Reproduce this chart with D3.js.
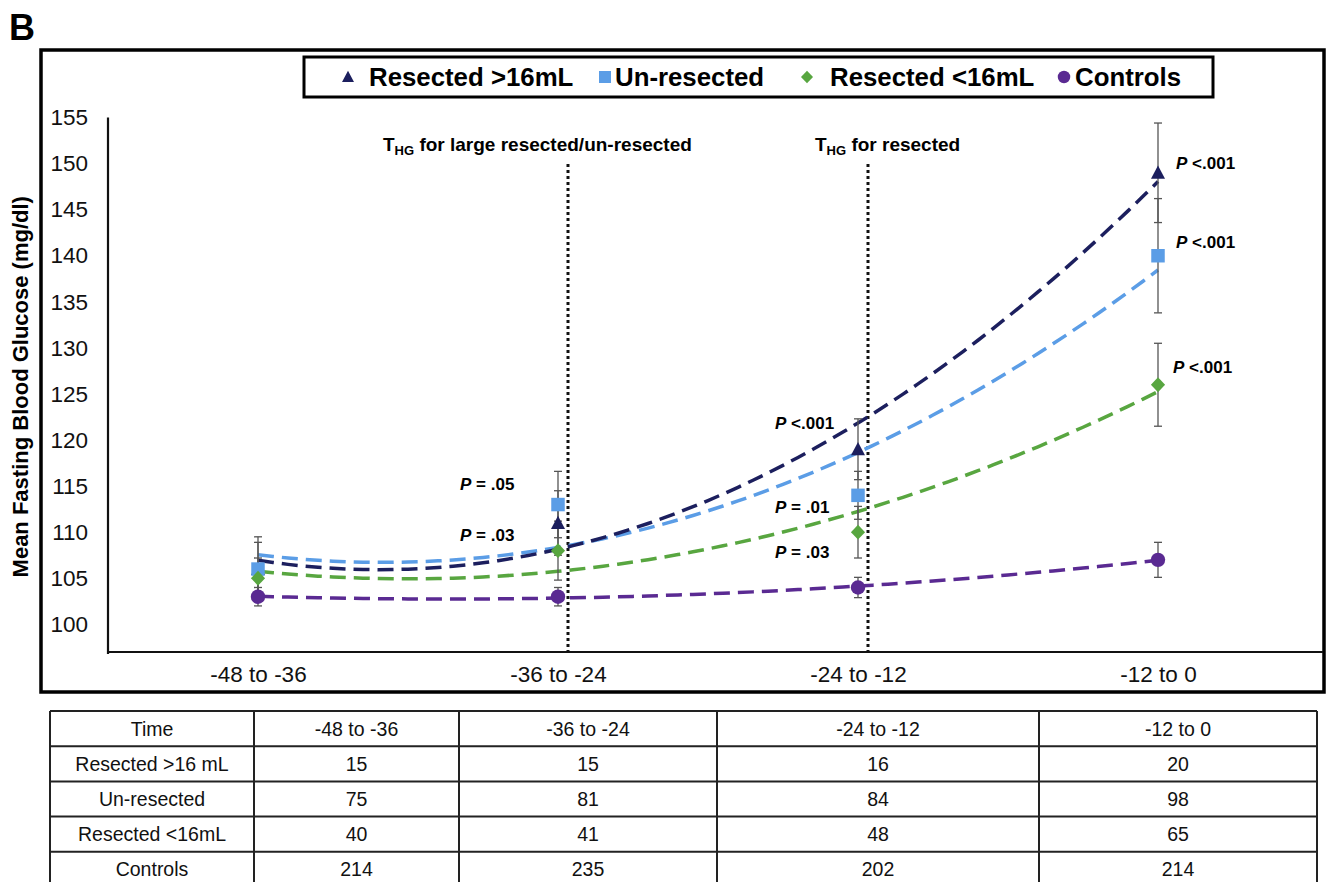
<!DOCTYPE html>
<html>
<head>
<meta charset="utf-8">
<script src="https://cdn.jsdelivr.net/npm/d3@7/dist/d3.min.js"></script>
<style>
  html, body { margin: 0; padding: 0; background: #fff; }
  svg { display: block; font-family: "Liberation Sans", Arial, Helvetica, sans-serif; }
</style>
</head>
<body>
<svg id="chart" width="1329" height="882"></svg>
<script>
// Time windows (months before diagnosis)
const categories = ["-48 to -36", "-36 to -24", "-24 to -12", "-12 to 0"];

// Mean fasting blood glucose (mg/dl) per group
const resectedLarge = [106, 111, 119, 149];
const unresected    = [106, 113, 114, 140];
const resectedSmall = [105, 108, 110, 126];
const controls      = [103, 103, 104, 107];

// Error bar half-widths (mg/dl)
const errLarge = [3.5, 3.5, 3.3, 5.4];
const errUn    = [2.9, 3.6, 2.6, 6.2];
const errSmall = [2.2, 3.2, 2.8, 4.5];
const errCtrl  = [1.0, 1.0, 1.1, 1.9];

// Y axis tick labels
const yTicks = [100, 105, 110, 115, 120, 125, 130, 135, 140, 145, 150, 155];

// Sample sizes shown under the chart
const tableHeader = ["Time", "-48 to -36", "-36 to -24", "-24 to -12", "-12 to 0"];
const nResectedLarge = [15, 15, 16, 20];
const nUnresected    = [75, 81, 84, 98];
const nResectedSmall = [40, 41, 48, 65];
const nControls      = [214, 235, 202, 214];
const tableRowNames  = ["Resected >16 mL", "Un-resected", "Resected <16mL", "Controls"];

// P-value annotations: category index, text after the italic P, anchor value on y
const pLabels = [
  { cat: 1, text: " = .05", v: 114.6 },
  { cat: 1, text: " = .03", v: 109.0 },
  { cat: 2, text: " <.001", v: 121.2 },
  { cat: 2, text: " = .01", v: 112.1 },
  { cat: 2, text: " = .03", v: 107.2 },
  { cat: 3, text: " <.001", v: 149.4 },
  { cat: 3, text: " <.001", v: 140.8 },
  { cat: 3, text: " <.001", v: 127.3 }
];

const series = [
  { name: "Resected >16mL", values: resectedLarge, err: errLarge, color: "#1c1f5e", shape: "triangle" },
  { name: "Un-resected",    values: unresected,    err: errUn,    color: "#5b9de6", shape: "square" },
  { name: "Resected <16mL", values: resectedSmall, err: errSmall, color: "#58a640", shape: "diamond" },
  { name: "Controls",       values: controls,      err: errCtrl,  color: "#5a2a92", shape: "circle" }
];

const svg = d3.select("#chart");
const FONT = '"Liberation Sans", Arial, Helvetica, sans-serif';

// Panel letter
svg.append("text").attr("x", 9).attr("y", 40)
  .attr("font-size", 36).attr("font-weight", "bold").attr("fill", "#000").text("B");

// Outer frame of the chart panel
svg.append("rect").attr("x", 41).attr("y", 50).attr("width", 1283).attr("height", 642)
  .attr("fill", "none").attr("stroke", "#000").attr("stroke-width", 3.5);

// Scales
const x = d3.scalePoint().domain(categories).range([108, 1308]).padding(0.5);
const y = d3.scaleLinear().domain([97, 155]).range([652, 117.5]);
const xi = d3.scaleLinear().domain([0, categories.length - 1])
  .range([x(categories[0]), x(categories[categories.length - 1])]);

// Y axis
const yAxis = d3.axisLeft(y).tickValues(yTicks).tickSize(0).tickPadding(20);
const gy = svg.append("g").attr("transform", "translate(108,0)").call(yAxis);
gy.select(".domain").remove();
gy.selectAll("text").attr("font-family", FONT).attr("font-size", 22.5).attr("fill", "#111");
svg.append("line").attr("x1", 108).attr("x2", 108).attr("y1", y(155)).attr("y2", 654)
  .attr("stroke", "#111").attr("stroke-width", 2.2);

// X axis
const xAxis = d3.axisBottom(x).tickSize(0).tickPadding(14);
const gx = svg.append("g").attr("transform", "translate(0,652)").call(xAxis);
gx.select(".domain").remove();
gx.selectAll("text").attr("font-family", FONT).attr("font-size", 22.5).attr("fill", "#111");
svg.append("line").attr("x1", 107).attr("x2", 1323).attr("y1", 652).attr("y2", 652)
  .attr("stroke", "#111").attr("stroke-width", 2.2);

// Y axis title
svg.append("text")
  .attr("transform", `translate(28,${(y(155) + 652) / 2 + 2}) rotate(-90)`)
  .attr("text-anchor", "middle").attr("font-size", 22).attr("font-weight", "bold")
  .attr("fill", "#000").text("Mean Fasting Blood Glucose (mg/dl)");

// Threshold markers (dotted verticals) with their labels
const thresholds = [
  { cat: 1, main: "T", sub: "HG", rest: " for large resected/un-resected", labelX: 383 - 568 },
  { cat: 2, main: "T", sub: "HG", rest: " for resected", labelX: 815 - 868 }
];
thresholds.forEach(t => {
  const lx = x(categories[t.cat]) + 10;
  svg.append("line").attr("x1", lx).attr("x2", lx).attr("y1", 164).attr("y2", 651)
    .attr("stroke", "#111").attr("stroke-width", 3).attr("stroke-dasharray", "3,3");
  const tx = svg.append("text").attr("x", lx + t.labelX).attr("y", 151)
    .attr("font-size", 19).attr("font-weight", "bold").attr("fill", "#000");
  tx.append("tspan").text(t.main);
  tx.append("tspan").attr("font-size", 13).attr("dy", 4).text(t.sub);
  tx.append("tspan").attr("dy", -4).text(t.rest);
});

// Second-order polynomial trendline (least squares) through each series
function quadFit(vals) {
  const S = [0, 0, 0, 0, 0], T = [0, 0, 0];
  vals.forEach((v, i) => {
    for (let k = 0; k < 5; k++) S[k] += Math.pow(i, k);
    for (let k = 0; k < 3; k++) T[k] += v * Math.pow(i, k);
  });
  const A = [[S[0], S[1], S[2], T[0]], [S[1], S[2], S[3], T[1]], [S[2], S[3], S[4], T[2]]];
  for (let c = 0; c < 3; c++) {
    for (let r = c + 1; r < 3; r++) {
      const f = A[r][c] / A[c][c];
      for (let k = c; k < 4; k++) A[r][k] -= f * A[c][k];
    }
  }
  const coef = [0, 0, 0];
  for (let r = 2; r >= 0; r--) {
    let s = A[r][3];
    for (let k = r + 1; k < 3; k++) s -= A[r][k] * coef[k];
    coef[r] = s / A[r][r];
  }
  return t => coef[0] + coef[1] * t + coef[2] * t * t;
}

const trendLine = d3.line().x(d => xi(d[0])).y(d => y(d[1]));
const gTrend = svg.append("g");
// drawn bottom-up so the darker curve sits on top where they cross
[3, 2, 1, 0].forEach(si => {
  const s = series[si];
  const f = quadFit(s.values);
  const ts = d3.range(0, 3.0001, 0.05);
  gTrend.append("path").datum(ts.map(t => [t, f(t)]))
    .attr("d", trendLine).attr("fill", "none").attr("stroke", s.color)
    .attr("stroke-width", 3.5).attr("stroke-dasharray", "16,8");
});

// Error bars
const gErr = svg.append("g").attr("stroke", "#555").attr("stroke-width", 1.3);
series.forEach(s => {
  s.values.forEach((v, i) => {
    const cx = x(categories[i]);
    const lo = y(v - s.err[i]), hi = y(v + s.err[i]);
    gErr.append("line").attr("x1", cx).attr("x2", cx).attr("y1", lo).attr("y2", hi);
    gErr.append("line").attr("x1", cx - 4).attr("x2", cx + 4).attr("y1", lo).attr("y2", lo);
    gErr.append("line").attr("x1", cx - 4).attr("x2", cx + 4).attr("y1", hi).attr("y2", hi);
  });
});

// Markers
function markerPath(shape, size) {
  const h = size / 2;
  switch (shape) {
    case "triangle": return `M0,${-h * 1.05}L${h},${h * 0.85}L${-h},${h * 0.85}Z`;
    case "square": return `M${-h},${-h}H${h}V${h}H${-h}Z`;
    case "diamond": return `M0,${-h * 1.1}L${h * 1.05},0L0,${h * 1.1}L${-h * 1.05},0Z`;
    default: return null;
  }
}
const gMark = svg.append("g");
series.forEach(s => {
  s.values.forEach((v, i) => {
    const cx = x(categories[i]), cy = y(v);
    if (s.shape === "circle") {
      gMark.append("circle").attr("cx", cx).attr("cy", cy).attr("r", 7.2).attr("fill", s.color);
    } else {
      gMark.append("path").attr("d", markerPath(s.shape, s.shape === "triangle" ? 14 : 13.5))
        .attr("transform", `translate(${cx},${cy})`).attr("fill", s.color);
    }
  });
});

// P-value labels
const pOffsets = { 1: -98, 2: -83, 3: 18 };
pLabels.forEach((p, k) => {
  const dx = (k === 7) ? 15 : pOffsets[p.cat];
  const t = svg.append("text").attr("x", x(categories[p.cat]) + dx).attr("y", y(p.v))
    .attr("font-size", 17).attr("font-weight", "bold").attr("fill", "#000");
  t.append("tspan").attr("font-style", "italic").text("P");
  t.append("tspan").text(p.text);
});

// Legend
const legend = svg.append("g");
legend.append("rect").attr("x", 304).attr("y", 57).attr("width", 909).attr("height", 40)
  .attr("fill", "#fff").attr("stroke", "#000").attr("stroke-width", 3);
const legendLayout = [
  { mx: 348, tx: 369, size: 12 },
  { mx: 605, tx: 615, size: 12 },
  { mx: 807, tx: 830, size: 11.5 },
  { mx: 1064, tx: 1075, size: 12.5 }
];
series.forEach((s, i) => {
  const L = legendLayout[i];
  if (s.shape === "circle") {
    legend.append("circle").attr("cx", L.mx).attr("cy", 77).attr("r", L.size / 2).attr("fill", s.color);
  } else {
    legend.append("path").attr("d", markerPath(s.shape, L.size))
      .attr("transform", `translate(${L.mx},77)`).attr("fill", s.color);
  }
  legend.append("text").attr("x", L.tx).attr("y", 86).attr("font-size", 25.8)
    .attr("font-weight", "bold").attr("fill", "#000").text(s.name);
});

// Sample-size table
const colEdges = [50, 254, 459, 717, 1039, 1317];
const rowTop = 711, rowH = 35.2;
const tableData = [
  tableHeader,
  [tableRowNames[0], ...nResectedLarge],
  [tableRowNames[1], ...nUnresected],
  [tableRowNames[2], ...nResectedSmall],
  [tableRowNames[3], ...nControls]
];
const gTable = svg.append("g");
tableData.forEach((row, r) => {
  row.forEach((cell, c) => {
    gTable.append("text")
      .attr("x", (colEdges[c] + colEdges[c + 1]) / 2)
      .attr("y", rowTop + r * rowH + rowH / 2 + 7)
      .attr("text-anchor", "middle").attr("font-size", 19.5).attr("fill", "#111")
      .text(cell);
  });
});
for (let r = 0; r <= tableData.length; r++) {
  gTable.append("line").attr("x1", colEdges[0]).attr("x2", colEdges[colEdges.length - 1])
    .attr("y1", rowTop + r * rowH).attr("y2", rowTop + r * rowH)
    .attr("stroke", "#222").attr("stroke-width", 2);
}
colEdges.forEach(cx => {
  gTable.append("line").attr("x1", cx).attr("x2", cx)
    .attr("y1", rowTop).attr("y2", rowTop + tableData.length * rowH)
    .attr("stroke", "#222").attr("stroke-width", 2);
});
</script>
</body>
</html>
